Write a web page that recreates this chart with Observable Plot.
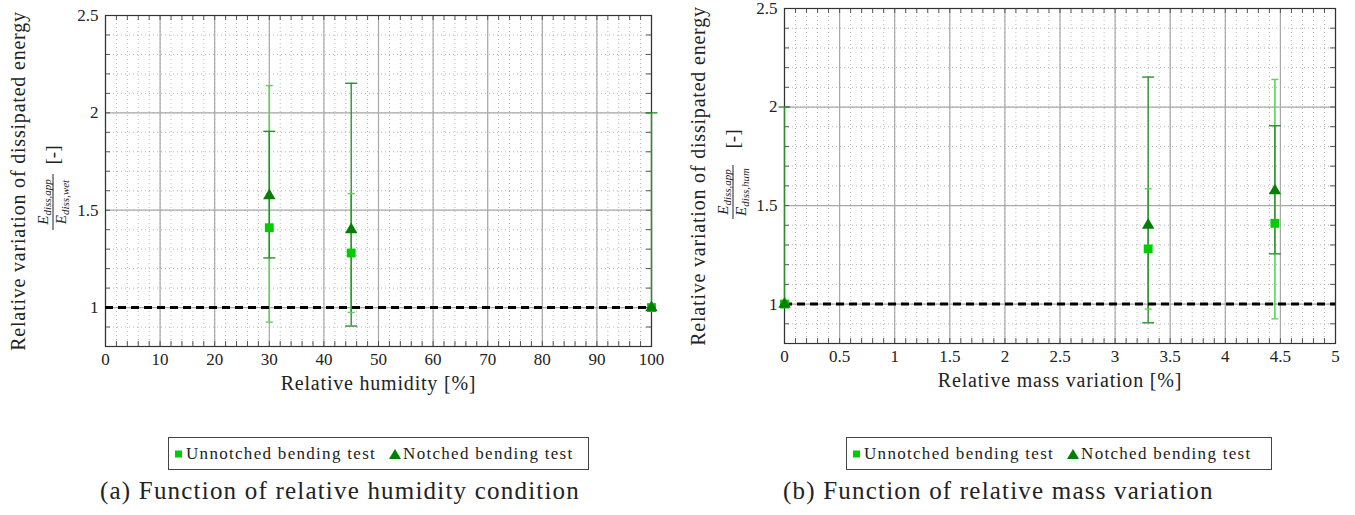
<!DOCTYPE html>
<html><head><meta charset="utf-8">
<script src="https://cdn.jsdelivr.net/npm/d3@7"></script>
<script src="https://cdn.jsdelivr.net/npm/@observablehq/plot@0.6"></script>
<style>
body{margin:0;background:#fff;}
#root{position:relative;width:1355px;height:515px;overflow:hidden;font-family:"Liberation Serif",serif;color:#222;}
.panel{position:absolute;top:0;}
.panel svg, .panel svg text{font-family:"Liberation Serif",serif !important;}
.panel svg text.lbl{letter-spacing:0.8px;}
.legend{position:absolute;top:437px;height:33px;border:1px solid #444;box-sizing:border-box;display:flex;align-items:center;font-size:17px;letter-spacing:1.3px;white-space:nowrap;padding-left:5px;font-family:"Liberation Serif",serif;}
.legend .it{display:flex;align-items:center;}
.caption{position:absolute;top:477px;font-family:"Liberation Serif",serif;font-size:25px;letter-spacing:1.2px;white-space:nowrap;color:#222;}
</style></head><body><div id="root"></div>
<script>
// ---- data ----
const humidity      = [30, 45, 100];
const massVariation = [4.45, 3.3, 0];
const unnotchedMean = [1.41, 1.28, 1.0];
const unnotchedLow  = [0.925, 0.975, 1.0];
const unnotchedHigh = [2.14, 1.585, 1.0];
const notchedMean   = [1.575, 1.40, 1.0];
const notchedLow    = [1.255, 0.905, 1.0];
const notchedHigh   = [1.905, 2.152, 2.0];
const yTicks        = [1, 1.5, 2, 2.5];
const yDomain       = [0.8, 2.5];
const humTicks      = [0, 10, 20, 30, 40, 50, 60, 70, 80, 90, 100];
const massTicks     = [0, 0.5, 1, 1.5, 2, 2.5, 3, 3.5, 4, 4.5, 5];
const referenceLevel = [1];
const seriesNames = ["Unnotched bending test", "Notched bending test"];

const C_UN = "#00cc00", C_UN_ERR = "#55d655";
const C_NO = "#007f00", C_NO_ERR = "#2e8f2e";
const FONT = "Liberation Serif";

const capSymbol = (w) => ({draw(ctx) { ctx.moveTo(-w, 0); ctx.lineTo(w, 0); }});

function rows(xs) {
  return xs.map((x, i) => ({x, un: unnotchedMean[i], unLo: unnotchedLow[i], unHi: unnotchedHigh[i],
    no: notchedMean[i], noLo: notchedLow[i], noHi: notchedHigh[i]}));
}

function panel(o) {
  const data = rows(o.xs);
  const W = o.width, H = 410;
  const fw = W - o.ml - o.mr, fh = H - o.mt - o.mb;
  const yMinor = d3.range(8, 26).map(d => d / 10);
  const tick = 5;
  const fmt = d => String(d);
  const svg = Plot.plot({
    width: W, height: H,
    marginLeft: o.ml, marginRight: o.mr, marginTop: o.mt, marginBottom: o.mb,
    style: {fontFamily: FONT, fontSize: "17px", color: "#222", background: "white"},
    x: {domain: o.xDomain},
    y: {domain: yDomain},
    marks: [
      Plot.gridX(o.xMinor, {stroke: "#999", strokeOpacity: 0.7, strokeDasharray: "1,3"}),
      Plot.gridY(yMinor, {stroke: "#999", strokeOpacity: 0.7, strokeDasharray: "1,3"}),
      Plot.gridX(o.xMajor, {stroke: "#a8a8a8", strokeOpacity: 1, strokeWidth: 1.2}),
      Plot.gridY(yTicks, {stroke: "#a8a8a8", strokeOpacity: 1, strokeWidth: 1.2}),
      Plot.tickX(o.xMinor, {x: d => d, insetTop: fh - tick, stroke: "#555"}),
      Plot.tickX(o.xMinor, {x: d => d, insetBottom: fh - tick, stroke: "#555"}),
      Plot.tickY(yMinor, {y: d => d, insetRight: fw - tick, stroke: "#555"}),
      Plot.tickY(yMinor, {y: d => d, insetLeft: fw - tick, stroke: "#555"}),
      Plot.frame({stroke: "#333", strokeWidth: 1.2}),
      Plot.axisX(o.xMajor, {tickSize: 0, tickPadding: 6, label: null, fontSize: 17, tickFormat: fmt, fontFamily: FONT}),
      Plot.axisY(yTicks, {tickSize: 0, tickPadding: 7, label: null, fontSize: 17, tickFormat: fmt, fontFamily: FONT}),
      // error bars
      Plot.ruleX(data, {x: "x", y1: "unLo", y2: "unHi", stroke: C_UN_ERR, strokeWidth: 1.6}),
      Plot.ruleX(data, {x: "x", y1: "noLo", y2: "noHi", stroke: C_NO_ERR, strokeWidth: 1.4}),
      Plot.dot(data.filter(d => d.unHi > d.unLo), {x: "x", y: "unHi", symbol: capSymbol(3.5), fill: "none", stroke: C_UN_ERR, strokeWidth: 1.4}),
      Plot.dot(data.filter(d => d.unHi > d.unLo), {x: "x", y: "unLo", symbol: capSymbol(3.5), fill: "none", stroke: C_UN_ERR, strokeWidth: 1.4}),
      Plot.dot(data, {x: "x", y: "noHi", symbol: capSymbol(6), fill: "none", stroke: C_NO_ERR, strokeWidth: 1.4}),
      Plot.dot(data.filter(d => d.noLo < d.no), {x: "x", y: "noLo", symbol: capSymbol(6), fill: "none", stroke: C_NO_ERR, strokeWidth: 1.4}),
      // reference
      Plot.ruleY(referenceLevel, {stroke: "#000", strokeWidth: 3, strokeDasharray: "8,5"}),
      // markers
      Plot.dot(data, {x: "x", y: "un", symbol: "square", r: 5, fill: C_UN, stroke: "none"}),
      Plot.dot(data, {x: "x", y: "no", symbol: "triangle", r: 4.6, fill: C_NO, stroke: "none"}),
      // labels
      Plot.text([o.xLabel], {frameAnchor: "bottom", dy: 43, fontSize: 20, fill: "#222", fontFamily: FONT}),
      Plot.text(["Relative variation of dissipated energy"], {frameAnchor: "left", textAnchor: "middle", rotate: -90, dx: o.yLabelDx, fontSize: 20, fill: "#222", fontFamily: FONT})
    ]
  });
  d3.select(svg).selectAll("g[aria-label=text] text").attr("class", "lbl");
  // fraction label (E_diss,app / E_diss,xxx [-])
  const s = d3.select(svg);
  const g = s.append("g").attr("transform", `translate(${o.fracX},${o.fracCY}) rotate(-90)`)
    .attr("font-family", FONT).attr("fill", "#222");
  const half = o.fracLen / 2;
  g.append("line").attr("x1", -half).attr("x2", half).attr("y1", 0).attr("y2", 0).attr("stroke", "#222").attr("stroke-width", 1);
  const term = (y, sub) => {
    const t = g.append("text").attr("y", y).attr("text-anchor", "middle").attr("font-style", "italic").attr("font-size", 15);
    t.append("tspan").text("E");
    t.append("tspan").attr("font-size", 11).attr("dy", 3).text(sub);
  };
  term(-5, "diss,app");
  term(13, o.denom);
  s.append("text").attr("transform", `translate(${o.fracX + 6},${o.brCY}) rotate(-90)`)
    .attr("text-anchor", "middle").attr("font-family", FONT).attr("font-size", 19).attr("fill", "#222").text("[-]");
  const div = document.createElement("div");
  div.className = "panel";
  div.style.left = o.left + "px";
  div.appendChild(svg);
  return div;
}

const root = document.getElementById("root");
root.appendChild(panel({
  xs: humidity, xDomain: [0, 100], xMajor: humTicks, xMinor: d3.range(0, 101, 2),
  width: 677, left: 0, ml: 105, mr: 26, mt: 15, mb: 64,
  xLabel: "Relative humidity [%]", yLabelDx: -87, denom: "diss,wet",
  fracX: 53, fracCY: 202, brCY: 155, fracLen: 56
}));
root.appendChild(panel({
  xs: massVariation, xDomain: [0, 5], xMajor: massTicks, xMinor: d3.range(0, 51, 1).map(d => d / 10),
  width: 678, left: 677, ml: 107, mr: 20, mt: 8, mb: 67,
  xLabel: "Relative mass variation [%]", yLabelDx: -86, denom: "diss,hum",
  fracX: 56, fracCY: 192, brCY: 139, fracLen: 54
}));

function legend(left, width) {
  const d = document.createElement("div");
  d.className = "legend";
  d.style.left = left + "px";
  d.style.width = width + "px";
  d.innerHTML =
    `<span class="it"><svg width="10" height="10"><rect x="1" y="1.5" width="7" height="7" fill="${C_UN}"/></svg><span style="margin-left:2px">${seriesNames[0]}</span></span>` +
    `<span class="it" style="margin-left:12px"><svg width="14" height="12"><polygon points="7,1 13,11 1,11" fill="${C_NO}"/></svg><span style="margin-left:1px">${seriesNames[1]}</span></span>`;
  root.appendChild(d);
}
legend(168, 421);
legend(846, 426);

function caption(left, text) {
  const d = document.createElement("div");
  d.className = "caption";
  d.style.left = left + "px";
  d.textContent = text;
  root.appendChild(d);
}
caption(100, "(a) Function of relative humidity condition");
caption(783, "(b) Function of relative mass variation");
</script></body></html>
